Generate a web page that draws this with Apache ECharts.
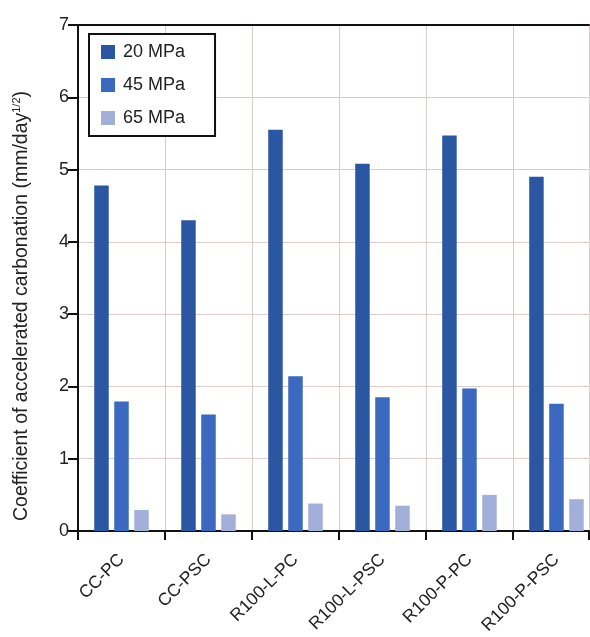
<!DOCTYPE html>
<html>
<head>
<meta charset="utf-8">
<script src="https://cdn.jsdelivr.net/npm/echarts@6/dist/echarts.min.js"></script>
<style>
html,body{margin:0;padding:0;background:#fff;overflow:hidden;}
#chart{width:590px;height:637px;}
</style>
</head>
<body>
<div id="chart"></div>
<script>
var categories = ['CC-PC', 'CC-PSC', 'R100-L-PC', 'R100-L-PSC', 'R100-P-PC', 'R100-P-PSC'];
var seriesNames = ['20 MPa', '45 MPa', '65 MPa'];
var mpa20 = [4.78, 4.30, 5.55, 5.08, 5.47, 4.90];
var mpa45 = [1.79, 1.61, 2.14, 1.85, 1.97, 1.76];
var mpa65 = [0.29, 0.23, 0.38, 0.35, 0.50, 0.44];
var yTicks = [0, 1, 2, 3, 4, 5, 6, 7];

var colors = ['#2b57a2', '#3a69bf', '#a2afd9'];
var FONT = '"Liberation Sans", Arial, Helvetica, sans-serif';
var chart = echarts.init(document.getElementById('chart'));

// category slots on a numeric axis; the plot shows slightly less than six full slots
var catIndex = categories.map(function (c, i) { return i; });
var xMin = -0.5;
var xMax = 5.374;

var values = [mpa20, mpa45, mpa65];
var series = seriesNames.map(function (n, i) {
  return {
    name: n,
    type: 'bar',
    data: catIndex.map(function (k) { return [k, values[i][k]]; }),
    barWidth: 14.5,
    barGap: '38%',
    itemStyle: { color: colors[i] },
    silent: true
  };
});

chart.setOption({
  animation: false,
  backgroundColor: '#fff',
  textStyle: { fontFamily: FONT },
  grid: { left: 78, top: 25, right: 1, bottom: 105, containLabel: false },
  legend: {
    orient: 'vertical',
    left: 89, top: 34,
    padding: [9, 30, 9, 12],
    itemWidth: 14, itemHeight: 14,
    itemGap: 15,
    icon: 'rect',
    borderColor: '#111', borderWidth: 2,
    backgroundColor: '#fff',
    textStyle: { fontSize: 18, color: '#222', fontFamily: FONT, padding: [0, 0, 0, 3] },
    data: seriesNames
  },
  xAxis: [{
    type: 'value',
    min: xMin, max: xMax, interval: 1,
    axisLine: { show: true, onZero: false, lineStyle: { color: '#111', width: 2 } },
    axisTick: { show: true, length: 9, lineStyle: { color: '#111', width: 2 } },
    axisLabel: {
      rotate: 45, fontSize: 17.5, color: '#222', margin: 26, fontFamily: FONT,
      customValues: catIndex,
      formatter: function (v) { return categories[Math.round(v)] || ''; }
    },
    splitLine: { show: true, lineStyle: { color: '#dccdca', width: 1 } }
  }, {
    type: 'value',
    position: 'top',
    min: xMin, max: xMax, interval: 1,
    axisLine: { show: true, onZero: false, lineStyle: { color: '#111', width: 2 } },
    axisTick: { show: false },
    axisLabel: { show: false },
    splitLine: { show: false }
  }],
  yAxis: {
    type: 'value',
    min: yTicks[0], max: yTicks[yTicks.length - 1], interval: 1,
    axisLine: { show: true, onZero: false, lineStyle: { color: '#111', width: 2 } },
    axisTick: { show: true, length: 10, lineStyle: { color: '#111', width: 2 } },
    axisLabel: { fontSize: 18, color: '#222', margin: 9, fontFamily: FONT },
    splitLine: { show: true, lineStyle: { color: '#dccdca', width: 1 } }
  },
  graphic: [{
    type: 'text',
    x: 22, y: 306,
    rotation: Math.PI / 2,
    style: {
      text: '{a|Coefficient of accelerated carbonation (mm/day}{s|1/2}{a|)}',
      align: 'center',
      verticalAlign: 'middle',
      fill: '#222',
      rich: {
        a: { fontSize: 19.5, fontFamily: FONT, fill: '#222', lineHeight: 22 },
        s: { fontSize: 11, fontFamily: FONT, fill: '#222', verticalAlign: 'top', lineHeight: 22 }
      }
    }
  }],
  series: series
});
</script>
</body>
</html>
